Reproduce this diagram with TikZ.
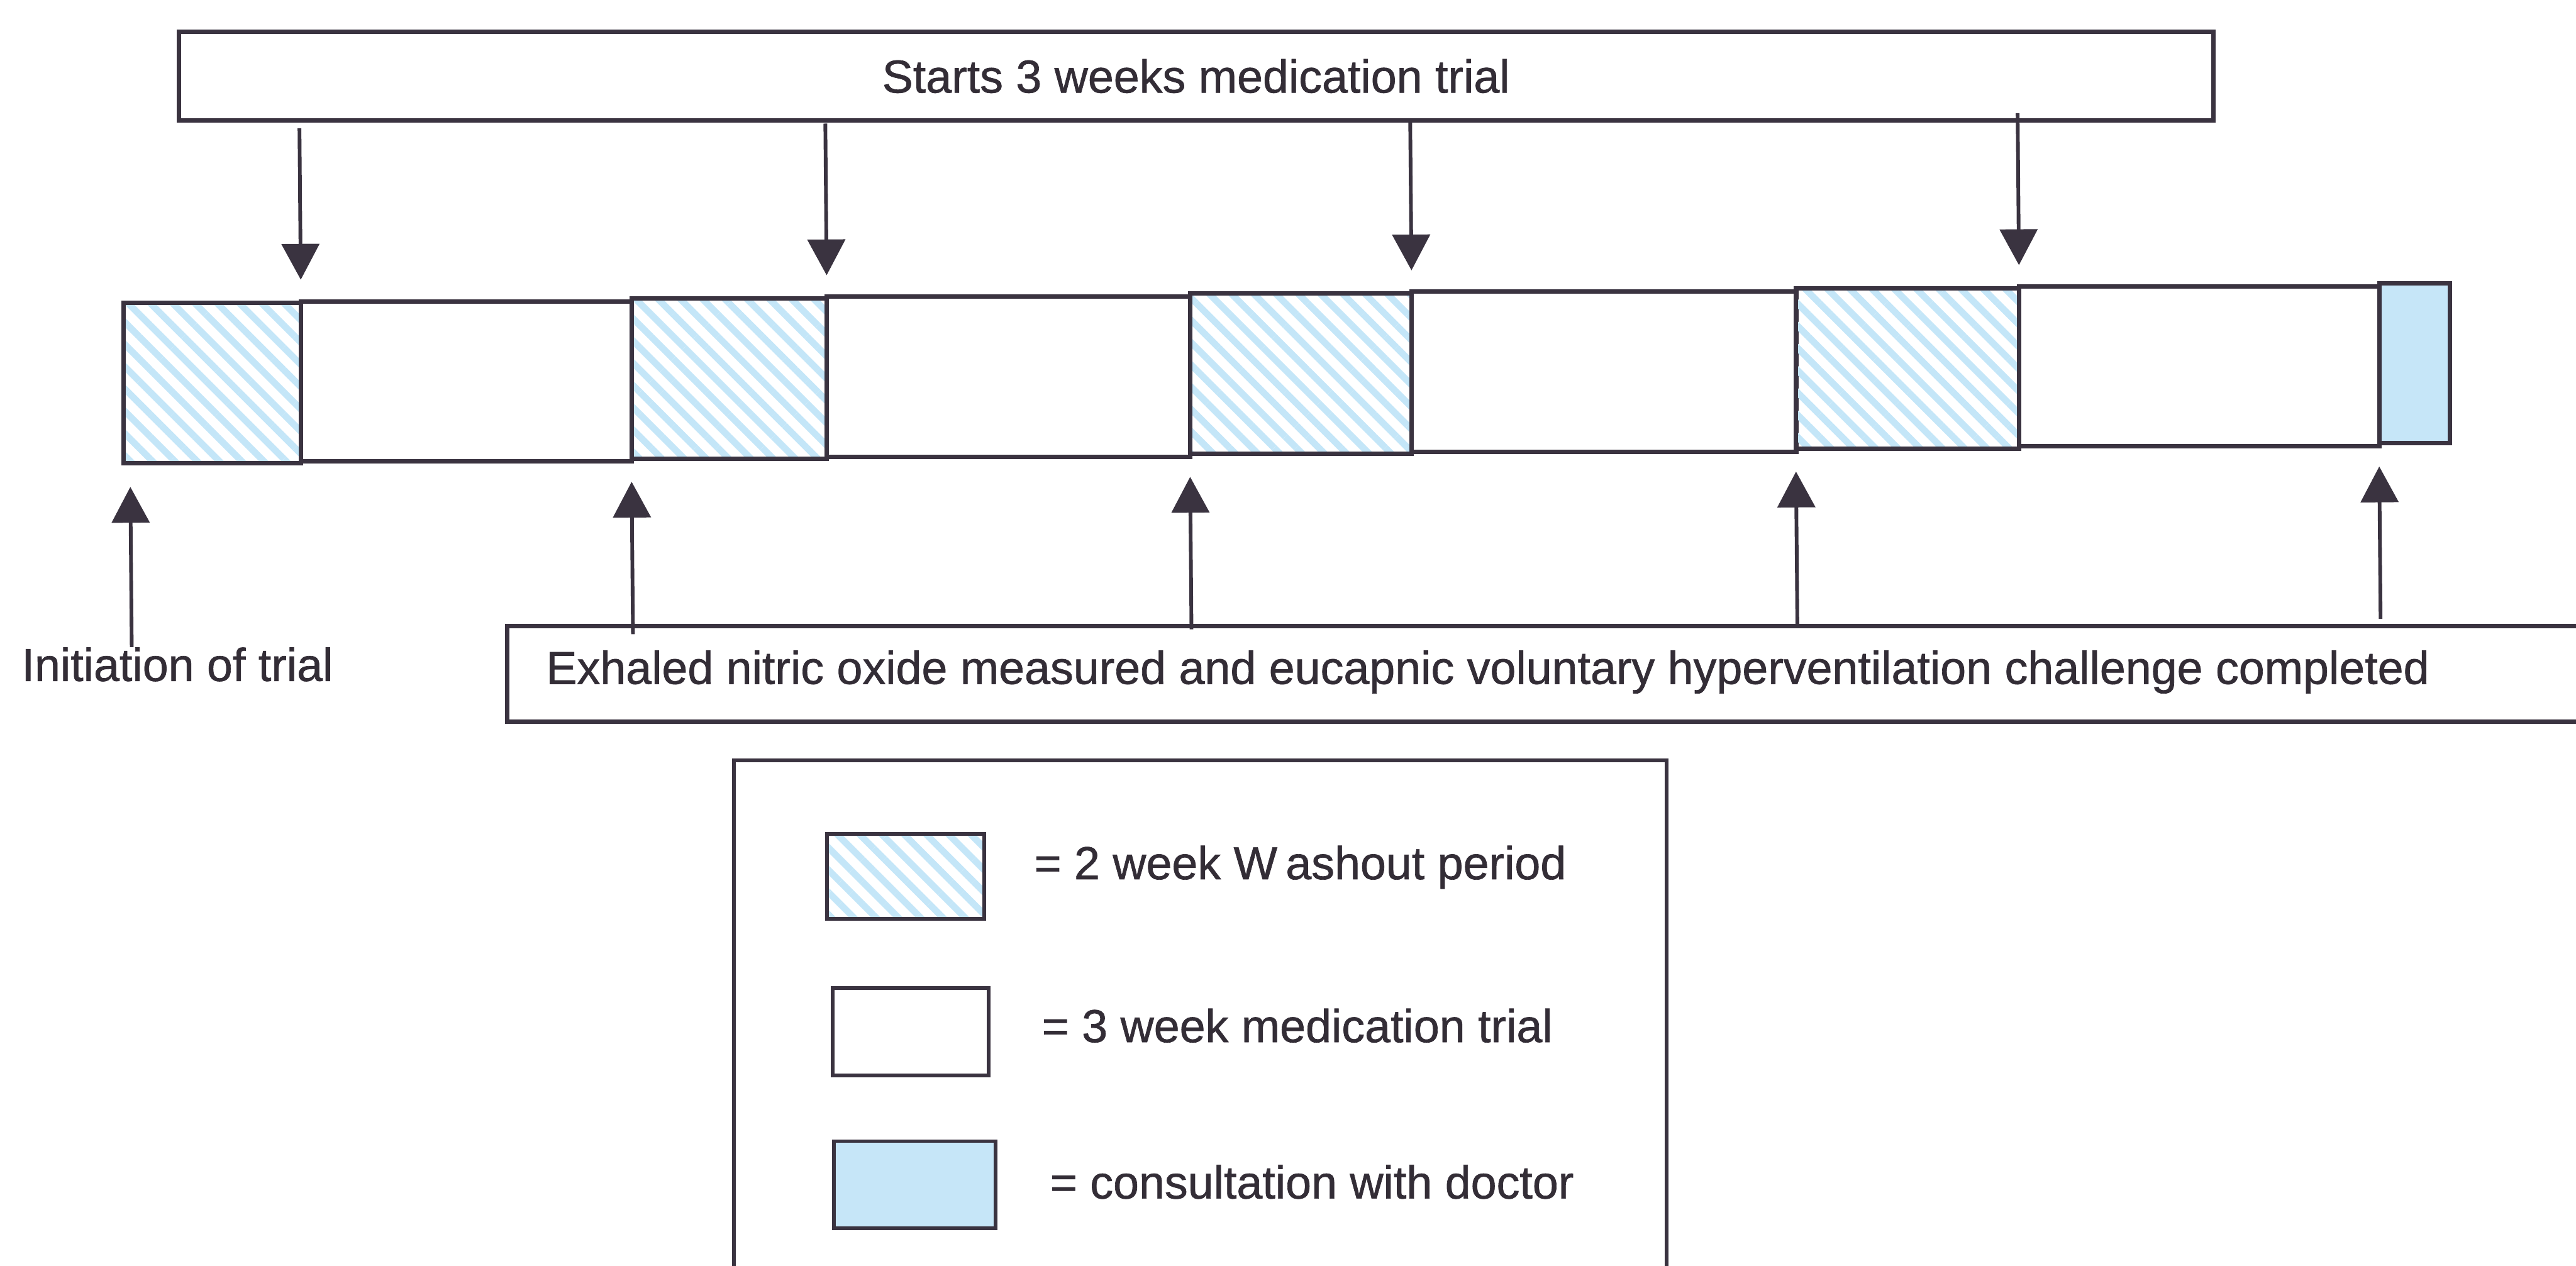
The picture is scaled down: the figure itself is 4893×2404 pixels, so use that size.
\documentclass[tikz,border=0pt]{standalone}
\usepackage{fontspec}
\setmainfont{Liberation Sans}[FakeBold=1]
\newfontfamily\scanfont{Liberation Sans}[FakeBold=0.9]
\usetikzlibrary{patterns.meta,arrows.meta,calc}
\definecolor{ink}{HTML}{3A3340}
\definecolor{hatchblue}{HTML}{C4E6F8}
\definecolor{consult}{HTML}{C6E6F8}
\definecolor{txt}{HTML}{332D36}
\begin{document}
\begin{tikzpicture}[x=0.01cm,y=-0.01cm,
  every node/.style={text=txt,font=\scanfont\fontsize{25}{30}\selectfont},
  box/.style={draw=ink,line width=2.4pt,fill=white,inner sep=0pt,outer sep=0pt},
  seg/.style={draw=ink,line width=2.4pt,inner sep=0pt,outer sep=0pt,anchor=north west,minimum height=3.04cm},
  washout/.style={seg,pattern={Lines[angle=-45,distance=8.5pt,line width=3.6pt]},pattern color=hatchblue},
  medtrial/.style={seg,fill=white},
  consultbox/.style={seg,fill=consult},
  lbl/.style={anchor=west,inner sep=0pt},
  arr/.style={draw=ink,line width=2pt,-{Triangle[width=0.71cm,length=0.68cm]}}
]
\useasboundingbox (0,0) rectangle (4893,2404);
\clip (0,0) rectangle (4893,2404);
\fill[white] (0,0) rectangle (4893,2404);
\begin{scope}[rotate around={0.5:(2450,1200)}]
% top box
\node[box,minimum width=38.62cm,minimum height=1.68cm] (tb) at (2281,143) {Starts 3 weeks medication trial};
% timeline bar
\node[washout,minimum width=3.37cm]  (w1) at (240,556) {};
\node[medtrial,minimum width=6.28cm] (t1) at (577,556) {};
\node[washout,minimum width=3.71cm]  (w2) at (1205,556) {};
\node[medtrial,minimum width=6.90cm] (t2) at (1576,556) {};
\node[washout,minimum width=4.21cm]  (w3) at (2266,556) {};
\node[medtrial,minimum width=7.30cm] (t3) at (2687,556) {};
\node[washout,minimum width=4.24cm]  (w4) at (3417,556) {};
\node[medtrial,minimum width=6.84cm] (t4) at (3841,556) {};
\node[consultbox,minimum width=1.34cm] (c1) at (4525,556) {};
% top arrows
\foreach \n in {w1,w2,w3,w4}
  \draw[arr,shorten >=0.44cm] (tb.south -| \n.north east) -- (\n.north east);
% bottom box
\node[box,anchor=north west,minimum width=40.5cm,minimum height=1.82cm] (bb) at (964,1176) {};
\node[lbl] (bbt) at (1036,1264) {Exhaled nitric oxide measured and eucapnic voluntary hyperventilation challenge completed};
% initiation
\node[lbl] (init) at (40,1241) {Initiation of trial};
\coordinate (initTop) at (250,1210);
\draw[arr,shorten >=0.44cm] (initTop) -- (initTop |- w1.south);
% bottom arrows
\foreach \n in {w2,w3,w4,c1}
  \draw[arr,shorten >=0.44cm] (bb.north -| \n.south west) -- (\n.south west);
% legend
\node[box,line width=2pt,anchor=north west,minimum width=17.7cm,minimum height=11cm] (lg) at (1392,1435) {};
\node[washout,line width=2pt,minimum width=2.99cm,minimum height=1.62cm] (sw1) at (1567,1576) {};
\node[medtrial,line width=2pt,minimum width=2.96cm,minimum height=1.66cm] (sw2) at (1576,1869) {};
\node[consultbox,line width=2pt,minimum width=3.06cm,minimum height=1.65cm] (sw3) at (1576,2160) {};
\node[lbl] (l1) at (1960,1643) {= 2 week W\kern0.18em ashout period};
\node[lbl] (l2) at (1972,1944) {= 3 week medication trial};
\node[lbl] (l3) at (1985,2241) {= consultation with doctor};
\end{scope}
\end{tikzpicture}
\end{document}
